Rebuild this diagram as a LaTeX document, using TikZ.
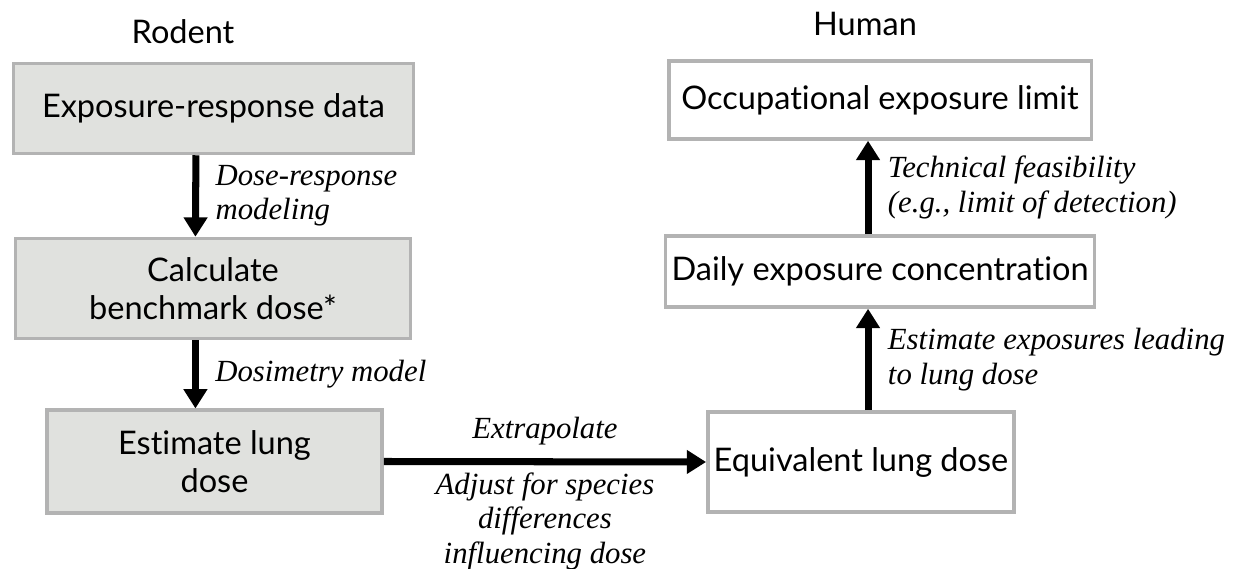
\documentclass[tikz,border=0pt]{standalone}
\usepackage{fontspec}
\setmainfont{Lato}[Ligatures=NoCommon]
\newfontfamily\notefont{Liberation Serif}
\usetikzlibrary{arrows.meta}
\definecolor{boxgray}{HTML}{E0E1DE}
\definecolor{edgegray}{HTML}{B3B3B3}
\tikzset{
    block/.style = {draw=edgegray, line width=2pt, rectangle, align=center,
        font=\fontsize{18.5}{21.5}\selectfont},
    rodentbox/.style = {block, fill=boxgray},
    humanbox/.style = {block, fill=white},
    heading/.style = {font=\fontsize{18.5}{21.5}\selectfont},
    note/.style = {font=\notefont\itshape\fontsize{17.5}{19.5}\selectfont, align=left},
    arrow/.style = {draw, line width=4pt, -{Triangle[length=11pt,width=13pt]}}
}

\begin{document}
\begin{tikzpicture}
                \useasboundingbox (0,0) rectangle (24.86,-11.38);
                % column headings
                \node[heading] (rodent) at (3.66,-0.64) {Rodent};
                \node[heading] (human) at (17.3,-0.48) {Human};
                % rodent side
                \node[rodentbox, minimum width=8.0cm, minimum height=1.8cm] (data) at (4.27,-2.17) {Exposure-response data};
                \node[rodentbox, minimum width=7.9cm, minimum height=2.0cm] (bmd) at (4.26,-5.77) {Calculate\\benchmark dose*};
                \node[rodentbox, minimum width=6.7cm, minimum height=2.05cm] (lung) at (4.29,-9.23) {Estimate lung\\dose};
                % human side
                \node[humanbox, minimum width=6.0cm, minimum height=2.0cm] (equiv) at (17.22,-9.24) {Equivalent lung dose};
                \node[humanbox, minimum width=8.45cm, minimum height=1.42cm] (daily) at (17.6,-5.43) {Daily exposure concentration};
                \node[humanbox, minimum width=8.45cm, minimum height=1.56cm] (oel) at (17.6,-2.0) {Occupational exposure limit};
                % connectors
                \draw[arrow] ([xshift=-10pt]data.south) -- node[note, right=6pt] {Dose-response\\modeling} ([xshift=-10pt]bmd.north);
                \draw[arrow] ([xshift=-10pt]bmd.south) -- node[note, right=6pt] {Dosimetry model} ([xshift=-10pt]bmd.south |- lung.north);
                \draw[arrow] (lung.east) -- node[note, above=4pt] {Extrapolate}
                    node[note, align=center, below=1pt] {Adjust for species\\differences\\influencing dose} (equiv.west);
                \draw[arrow] ([xshift=4pt]equiv.north) -- node[note, right=6pt] {Estimate exposures leading\\to lung dose} ([xshift=4pt]equiv.north |- daily.south);
                \draw[arrow] ([xshift=4pt]equiv.north |- daily.north) -- node[note, right=6pt] {Technical feasibility\\(e.g., limit of detection)} ([xshift=4pt]equiv.north |- oel.south);
\end{tikzpicture}
\end{document}
